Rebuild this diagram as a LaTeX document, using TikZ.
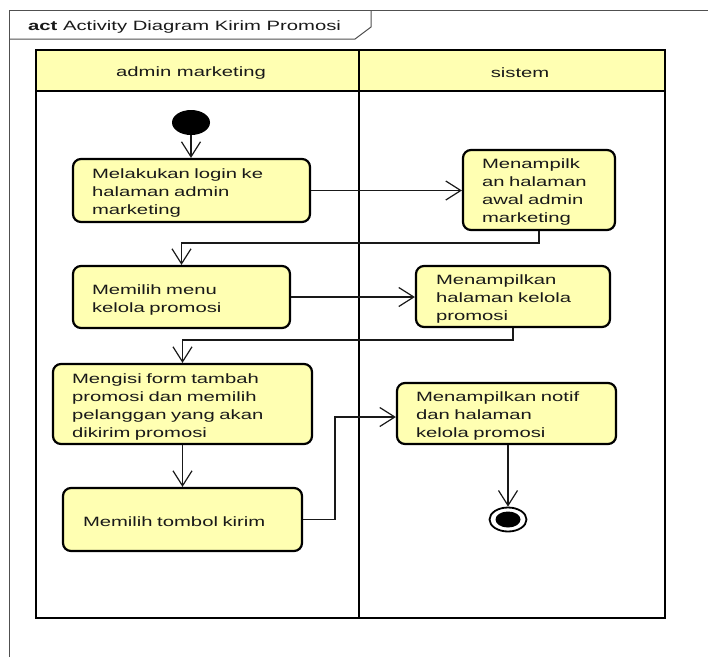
\documentclass[tikz,border=0pt]{standalone}
\usepackage{fontspec}
\setmainfont{Liberation Sans}[FakeStretch=1.5]
\usetikzlibrary{arrows.meta,shapes.geometric}

\definecolor{actfill}{RGB}{255,255,178}
\definecolor{inkcol}{RGB}{25,25,25}
\definecolor{framecol}{RGB}{80,80,80}

\tikzset{
  lane/.style={draw=black, line width=2.4pt},
  actbox/.style={draw=black, line width=2.2pt, rounded corners=8pt, fill=actfill, inner sep=0pt},
  acttxt/.style={align=left, inner sep=0pt, text=inkcol, yshift=-2.5pt},
  flow/.style={draw=inkcol, line width=1.2pt,
    -{Straight Barb[length=15pt,width=19pt,line width=1.2pt]}},
}

\begin{document}
\begin{tikzpicture}[x=1pt, y=-1pt, font=\fontsize{13.5}{18}\selectfont, text=inkcol]
\useasboundingbox (0,0) rectangle (708,657);

% diagram frame with its name tab
\draw[framecol, line width=1pt] (9,657) -- (9,10) -- (708,10);
\draw[framecol, line width=1pt] (9,39) -- (355,39) -- (371,27) -- (371,10);
\node[anchor=west, inner sep=0pt] (title) at (28,27.5) {\textbf{act} Activity Diagram Kirim Promosi};

% swimlanes
\fill[actfill] (36,50) rectangle (665,91);
\draw[lane] (36,50) rectangle (665,618);
\draw[lane] (36,91) -- (665,91);
\draw[lane] (359,50) -- (359,618);
\node (laneA) at (191,73) {admin marketing};
\node (laneB) at (520,73) {sistem};

% initial node
\node[ellipse, fill=black, minimum width=38pt, minimum height=25pt, inner sep=0pt] (start) at (191,122.5) {};

% actions: box first, then its text block
\node[actbox, minimum width=237pt, minimum height=63pt] (n1) at (191.5,190.5) {};
\node[acttxt, text width=199pt] (n1t) at (n1.center) {Melakukan login ke\\halaman admin\\marketing};

\node[actbox, minimum width=152pt, minimum height=80pt] (n3) at (539,190) {};
\node[acttxt, text width=114pt] (n3t) at (n3.center) {Menampilk\\an halaman\\awal admin\\marketing};

\node[actbox, minimum width=217pt, minimum height=62pt] (n2) at (181.5,297) {};
\node[acttxt, text width=179pt] (n2t) at (n2.center) {Memilih menu\\kelola promosi};

\node[actbox, minimum width=194pt, minimum height=61pt] (n4) at (513,296.5) {};
\node[acttxt, text width=154pt] (n4t) at (n4.center) {Menampilkan\\halaman kelola\\promosi};

\node[actbox, minimum width=259pt, minimum height=80pt] (n5) at (182.5,404) {};
\node[acttxt, text width=221pt] (n5t) at (n5.center) {Mengisi form tambah\\promosi dan memilih\\pelanggan yang akan\\dikirim promosi};

\node[actbox, minimum width=239pt, minimum height=63pt] (n6) at (182.5,519.5) {};
\node[acttxt, text width=199pt] (n6t) at (n6.center) {Memilih tombol kirim};

\node[actbox, minimum width=219pt, minimum height=61pt] (n7) at (506.5,413.5) {};
\node[acttxt, text width=181pt] (n7t) at (n7.center) {Menampilkan notif\\dan halaman\\kelola promosi};

% final node
\node[ellipse, draw=black, line width=1.8pt, fill=white, minimum width=37pt, minimum height=24pt, inner sep=0pt] (endn) at (508,519.5) {};
\fill[black] (endn.center) ellipse [x radius=12.5pt, y radius=8pt];

% control flows
\draw[flow] (start.south) -- (n1.north -| start.south);
\draw[flow] (n1.east) -- (n3.west |- n1.east);
\draw[flow] (n3.south) -- (n3.south |- 0,243) -- (n2.north |- 0,243) -- (n2.north);
\draw[flow] (n2.east) -- (n4.west |- n2.east);
\draw[flow] (n4.south) -- (n4.south |- 0,340) -- (n5.north |- 0,340) -- (n5.north);
\draw[flow] (n5.south) -- (n6.north);
\coordinate (bend) at (335,519.5);
\draw[flow] (n6.east) -- (bend) |- ([yshift=-3.5pt]n7.west);
\draw[flow] (n7.south -| endn.north) -- (endn.north);
\end{tikzpicture}
\end{document}
